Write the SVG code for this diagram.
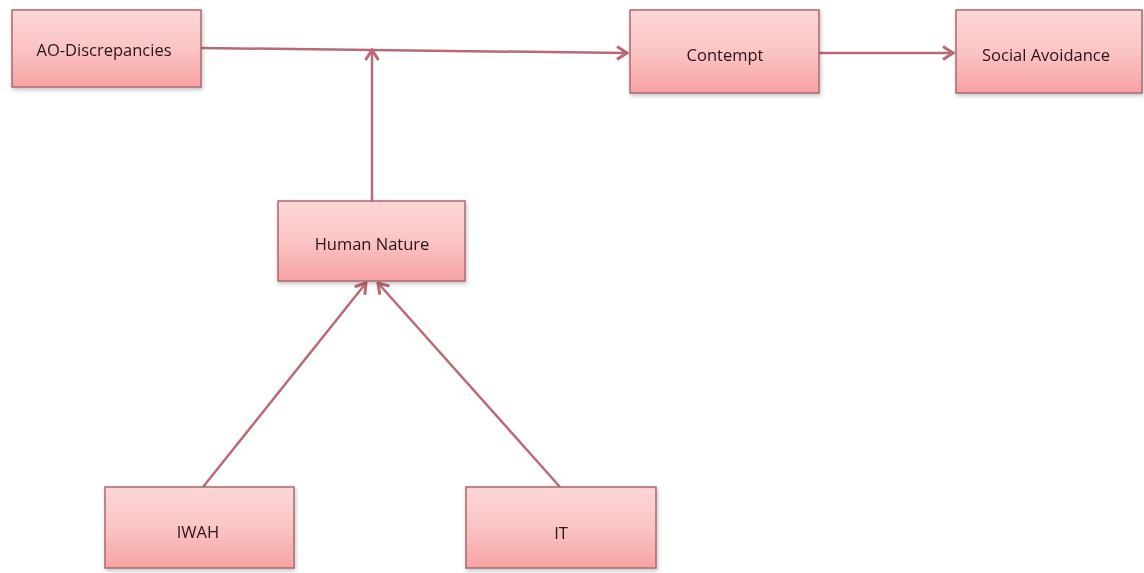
<svg xmlns="http://www.w3.org/2000/svg" width="1144" height="573" viewBox="0 0 1144 573">
<style>
.box{fill:url(#g);stroke:#a86a6e;stroke-width:1.5}
.lbl{font-family:"Open Sans","Liberation Sans",sans-serif;font-size:16.5px;fill:#2a1416;text-anchor:middle;dominant-baseline:central}
.con{fill:none;stroke:#b86a76;stroke-width:2.5;marker-end:url(#ah)}
</style>
<defs>
<linearGradient id="g" x1="0" y1="0" x2="0" y2="1">
<stop offset="0" stop-color="#fdd6d6"/>
<stop offset="0.5" stop-color="#fbc4c4"/>
<stop offset="1" stop-color="#f7a2a4"/>
</linearGradient>
<filter id="sh" x="-10%" y="-10%" width="130%" height="140%">
<feDropShadow dx="1" dy="2" stdDeviation="2" flood-color="#000" flood-opacity="0.25"/>
</filter>
<marker id="ah" viewBox="0 0 14 16" refX="12" refY="8" markerWidth="14" markerHeight="16" markerUnits="userSpaceOnUse" orient="auto">
<path d="M2,1.5 L12,8 L2,14.5" fill="none" stroke="#b86a76" stroke-width="3"/>
</marker>
</defs>
<g id="connectors">
<line class="con" x1="201" y1="48" x2="627" y2="53"/>
<line class="con" x1="819" y1="53" x2="953" y2="53"/>
<line class="con" x1="372" y1="201" x2="372" y2="50"/>
<line class="con" x1="203" y1="487" x2="366" y2="283"/>
<line class="con" x1="560" y1="487" x2="378" y2="283"/>
</g>
<g id="ao" filter="url(#sh)">
<rect class="box" x="12" y="10" width="189" height="77"/>
<text class="lbl" x="104" y="49">AO-Discrepancies</text>
</g>
<g id="contempt" filter="url(#sh)">
<rect class="box" x="630" y="10" width="189" height="83"/>
<text class="lbl" x="725" y="54">Contempt</text>
</g>
<g id="social" filter="url(#sh)">
<rect class="box" x="956" y="10" width="186" height="83"/>
<text class="lbl" x="1046" y="54">Social Avoidance</text>
</g>
<g id="human" filter="url(#sh)">
<rect class="box" x="278" y="201" width="187" height="80"/>
<text class="lbl" x="372" y="243">Human Nature</text>
</g>
<g id="iwah" filter="url(#sh)">
<rect class="box" x="105" y="487" width="189" height="81"/>
<text class="lbl" x="198" y="531">IWAH</text>
</g>
<g id="it" filter="url(#sh)">
<rect class="box" x="466" y="487" width="190" height="81"/>
<text class="lbl" x="561" y="532">IT</text>
</g>
</svg>
